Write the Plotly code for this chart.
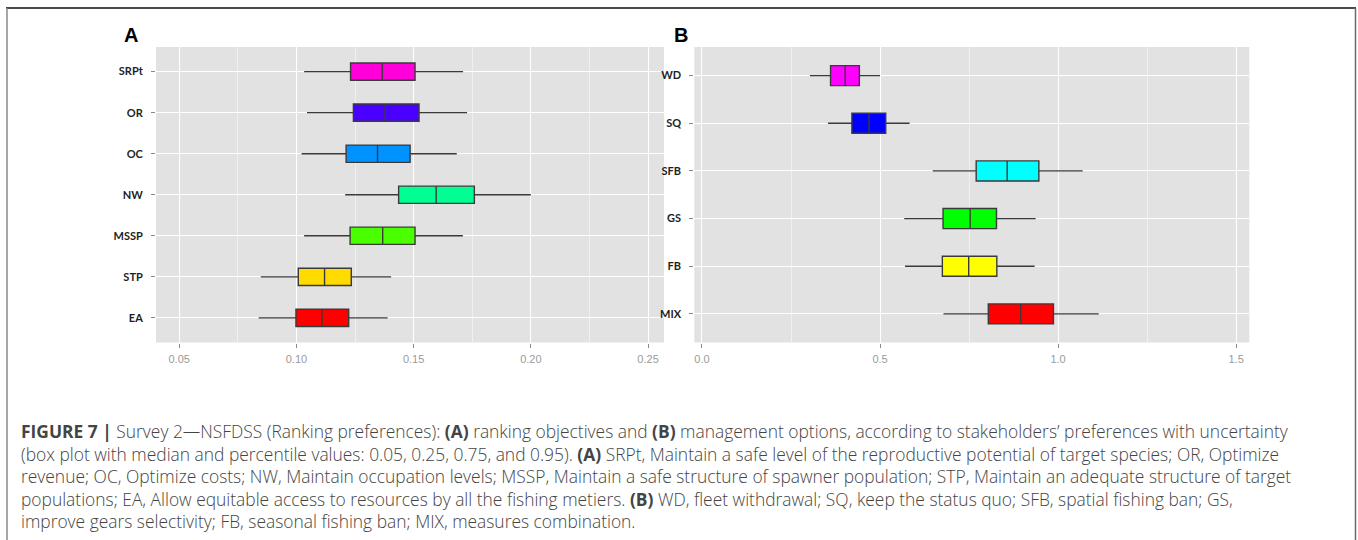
import plotly.graph_objects as go

W, H = 1358, 540

# ---------------- data ----------------
# Panel A (bottom -> top order)
a_cats = ["EA", "STP", "MSSP", "NW", "OC", "OR", "SRPt"]
a_low = [0.0839, 0.0848, 0.1033, 0.1208, 0.1022, 0.1045, 0.1033]
a_q1 = [0.0998, 0.1008, 0.1229, 0.1436, 0.1212, 0.1243, 0.1231]
a_med = [0.1109, 0.1120, 0.1368, 0.1596, 0.1346, 0.1378, 0.1366]
a_q3 = [0.1223, 0.1234, 0.1506, 0.1759, 0.1485, 0.1523, 0.1506]
a_high = [0.1389, 0.1404, 0.1710, 0.2000, 0.1684, 0.1728, 0.1711]
a_colors = ["#FF0000", "#FFDB00", "#49FF00", "#00FF92", "#0092FF", "#4900FF", "#FF00DB"]
a_ticks = [0.05, 0.10, 0.15, 0.20, 0.25]
a_ticklabels = ["0.05", "0.10", "0.15", "0.20", "0.25"]

# Panel B (bottom -> top order)
b_cats = ["MIX", "FB", "GS", "SFB", "SQ", "WD"]
b_low = [0.678, 0.570, 0.568, 0.648, 0.354, 0.303]
b_q1 = [0.804, 0.675, 0.677, 0.770, 0.421, 0.361]
b_med = [0.895, 0.749, 0.753, 0.857, 0.469, 0.402]
b_q3 = [0.987, 0.828, 0.827, 0.946, 0.516, 0.442]
b_high = [1.114, 0.934, 0.937, 1.069, 0.583, 0.500]
b_colors = ["#FF0000", "#FFFF00", "#00FF00", "#00FFFF", "#0000FF", "#FF00FF"]
b_ticks = [0.0, 0.5, 1.0, 1.5]
b_ticklabels = ["0.0", "0.5", "1.0", "1.5"]

caption_lines = [
    "<b>FIGURE 7 |</b> Survey 2\u2014NSFDSS (Ranking preferences): <b>(A)</b> ranking objectives and <b>(B)</b> management options, according to stakeholders\u2019 preferences with uncertainty",
    "(box plot with median and percentile values: 0.05, 0.25, 0.75, and 0.95). <b>(A)</b> SRPt, Maintain a safe level of the reproductive potential of target species; OR, Optimize",
    "revenue; OC, Optimize costs; NW, Maintain occupation levels; MSSP, Maintain a safe structure of spawner population; STP, Maintain an adequate structure of target",
    "populations; EA, Allow equitable access to resources by all the fishing metiers. <b>(B)</b> WD, fleet withdrawal; SQ, keep the status quo; SFB, spatial fishing ban; GS,",
    "improve gears selectivity; FB, seasonal fishing ban; MIX, measures combination.",
]


def px_x(x):
    return x / W


def px_y(y):
    return 1 - y / H


fig = go.Figure()

for i, c in enumerate(a_cats):
    fig.add_trace(go.Box(
        y=[c], q1=[a_q1[i]], median=[a_med[i]], q3=[a_q3[i]],
        lowerfence=[a_low[i]], upperfence=[a_high[i]],
        orientation="h", fillcolor=a_colors[i],
        line=dict(color="#3a3a3a", width=1.4), whiskerwidth=0,
        boxpoints=False, showlegend=False, xaxis="x", yaxis="y",
        hoverinfo="skip"))

for i, c in enumerate(b_cats):
    fig.add_trace(go.Box(
        y=[c], q1=[b_q1[i]], median=[b_med[i]], q3=[b_q3[i]],
        lowerfence=[b_low[i]], upperfence=[b_high[i]],
        orientation="h", fillcolor=b_colors[i],
        line=dict(color="#3a3a3a", width=1.4), whiskerwidth=0,
        boxpoints=False, showlegend=False, xaxis="x2", yaxis="y2",
        hoverinfo="skip"))

top_px, bot_px = 47.0, 342.5
tickfont = dict(family="Liberation Sans", size=11, color="#9a9a9a")
catfont = dict(family="Lato", size=11, color="#1e1e1e", weight="bold")

common_x = dict(showline=False, zeroline=False, ticks="outside", ticklen=4,
                tickcolor="#8a8a8a", tickwidth=1, tickfont=tickfont,
                showgrid=True, gridcolor="white", gridwidth=1.4,
                ticklabelstandoff=2)
common_y = dict(showline=False, zeroline=False, ticks="outside", ticklen=4,
                tickcolor="#8a8a8a", tickwidth=1, tickfont=catfont,
                showgrid=True, gridcolor="white", gridwidth=1.4,
                type="category", ticklabelstandoff=6)

fig.update_layout(
    width=W, height=H, autosize=False,
    margin=dict(l=0, r=0, t=0, b=0),
    paper_bgcolor="white", plot_bgcolor="#E2E2E2",
    boxmode="overlay", boxgap=0.4,
    xaxis=dict(domain=[px_x(156), px_x(664)], range=[0.0401, 0.2568],
               tickvals=a_ticks, ticktext=a_ticklabels, anchor="y",
               minor=dict(dtick=0.025, tick0=0, showgrid=True,
                          gridcolor="#F0F0F0", gridwidth=0.8, ticks=""),
               **common_x),
    yaxis=dict(domain=[px_y(bot_px), px_y(top_px)], anchor="x",
               categoryorder="array", categoryarray=a_cats,
               range=[-0.6, len(a_cats) - 1 + 0.6], **common_y),
    xaxis2=dict(domain=[px_x(694.3), px_x(1249.3)], range=[-0.0216, 1.537],
                tickvals=b_ticks, ticktext=b_ticklabels, anchor="y2",
                minor=dict(dtick=0.25, tick0=0, showgrid=True,
                           gridcolor="#F0F0F0", gridwidth=0.8, ticks=""),
                **common_x),
    yaxis2=dict(domain=[px_y(bot_px), px_y(top_px)], anchor="x2",
                categoryorder="array", categoryarray=b_cats,
                range=[-0.6, len(b_cats) - 1 + 0.6], **common_y),
)

annotations = [
    dict(text="<b>A</b>", x=px_x(130.5), y=px_y(35), xref="paper", yref="paper",
         xanchor="center", yanchor="middle", showarrow=False,
         font=dict(family="Liberation Sans", size=20, color="black")),
    dict(text="<b>B</b>", x=px_x(680.5), y=px_y(34.5), xref="paper", yref="paper",
         xanchor="center", yanchor="middle", showarrow=False,
         font=dict(family="Liberation Sans", size=20, color="black")),
]
line_ys = [431, 453.5, 476, 498.5, 521]
for t, ly in zip(caption_lines, line_ys):
    annotations.append(dict(
        text=t, x=px_x(19), y=px_y(ly), xref="paper", yref="paper",
        xanchor="left", yanchor="middle", showarrow=False, align="left",
        font=dict(family="Open Sans", size=17.4, color="#444444", weight=300)))
fig.update_layout(annotations=annotations)

shapes = [
    dict(type="line", xref="paper", yref="paper", x0=px_x(6), x1=px_x(1356),
         y0=px_y(8), y1=px_y(8), line=dict(color="#4a4a4a", width=2)),
    dict(type="line", xref="paper", yref="paper", x0=px_x(7), x1=px_x(7),
         y0=px_y(8), y1=px_y(540), line=dict(color="#8a8a8a", width=1.5)),
    dict(type="line", xref="paper", yref="paper", x0=px_x(1355.5), x1=px_x(1355.5),
         y0=px_y(8), y1=px_y(540), line=dict(color="#6a6a6a", width=1.5)),
]
fig.update_layout(shapes=shapes)

fig.write_html("out.html")
